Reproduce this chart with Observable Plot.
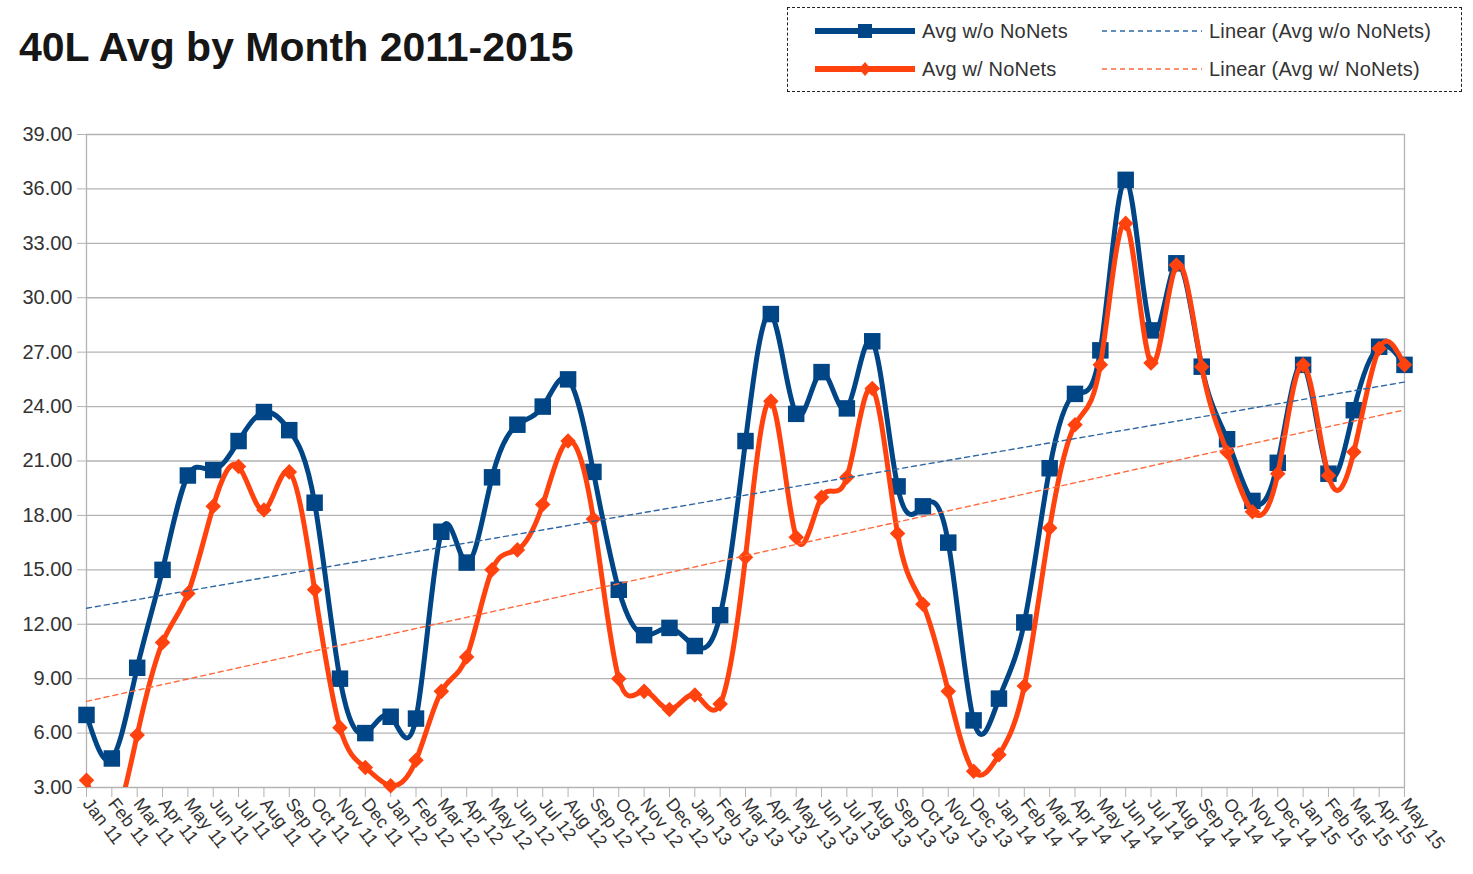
<!DOCTYPE html>
<html><head><meta charset="utf-8">
<script src="https://cdn.jsdelivr.net/npm/d3@7"></script>
<script src="https://cdn.jsdelivr.net/npm/@observablehq/plot@0.6"></script>
<style>
body{margin:0;background:#fff;font-family:"Liberation Sans",Arial,sans-serif;}
#wrap{position:relative;width:1473px;height:874px;overflow:hidden;}
#title{position:absolute;left:19px;top:27px;font-size:41px;font-weight:bold;color:#161616;white-space:nowrap;line-height:1;}
#legend{position:absolute;left:787px;top:7px;width:675px;height:85px;border:1.5px dashed #222;box-sizing:border-box;}
.li{position:absolute;display:flex;align-items:center;font-size:20px;letter-spacing:0.2px;color:#333;white-space:nowrap;}
.li svg{margin-right:6px;}
#chart{position:absolute;left:0;top:0;}
</style></head>
<body><div id="wrap"><div id="chart"></div><div id="title">40L Avg by Month 2011-2015</div><div id="legend"></div></div>
<script>
const months = ["Jan 11","Feb 11","Mar 11","Apr 11","May 11","Jun 11","Jul 11","Aug 11","Sep 11","Oct 11","Nov 11","Dec 11",
"Jan 12","Feb 12","Mar 12","Apr 12","May 12","Jun 12","Jul 12","Aug 12","Sep 12","Oct 12","Nov 12","Dec 12",
"Jan 13","Feb 13","Mar 13","Apr 13","May 13","Jun 13","Jul 13","Aug 13","Sep 13","Oct 13","Nov 13","Dec 13",
"Jan 14","Feb 14","Mar 14","Apr 14","May 14","Jun 14","Jul 14","Aug 14","Sep 14","Oct 14","Nov 14","Dec 14",
"Jan 15","Feb 15","Mar 15","Apr 15","May 15"];
const avgWithout = [7.0,4.6,9.6,15.0,20.2,20.5,22.1,23.7,22.7,18.7,9.0,6.0,
6.9,6.8,17.1,15.4,20.1,23.0,24.0,25.5,20.4,13.9,11.4,11.8,
10.8,12.5,22.1,29.1,23.6,25.9,23.9,27.6,19.6,18.5,16.5,6.7,
7.9,12.1,20.6,24.7,27.1,36.5,28.2,31.9,26.2,22.2,18.8,20.9,
26.3,20.3,23.8,27.3,26.3];
const avgWith = [3.4,1.0,5.9,11.0,13.7,18.5,20.7,18.3,20.4,13.9,6.3,4.1,
3.1,4.5,8.3,10.2,15.0,16.1,18.6,22.1,17.8,9.0,8.3,7.3,
8.1,7.6,15.7,24.3,16.8,19.0,20.1,25.0,17.0,13.1,8.3,3.9,
4.8,8.6,17.3,23.0,26.3,34.1,26.4,31.8,26.2,21.5,18.2,20.3,
26.3,20.2,21.5,27.2,26.3];
const yTicks = [3,6,9,12,15,18,21,24,27,30,33,36,39];
const seriesNames = ["Avg w/o NoNets","Avg w/ NoNets"];
const trendNames = ["Linear (Avg w/o NoNets)","Linear (Avg w/ NoNets)"];
const colors = ["#004586","#ff420e"];
const trendColors = ["#2f67a3","#ff6a3d"];

const data = months.map((m,i)=>({i, month:m, without:avgWithout[i], with:avgWith[i]}));
const last = months.length-1;
const yMin = yTicks[0];

const chart = Plot.plot({
  width:1473, height:874, marginLeft:86, marginRight:69, marginTop:134, marginBottom:87,
  x:{domain:[0,last]},
  y:{domain:[yTicks[0], yTicks[yTicks.length-1]]},
  style:{fontFamily:"Liberation Sans, Arial, sans-serif", background:"transparent", color:"#333", overflow:"visible"},
  marks:[
    Plot.gridY(yTicks,{stroke:"#b3b3b3", strokeOpacity:1, strokeWidth:1.3}),
    Plot.ruleX([0,last],{stroke:"#b3b3b3", strokeWidth:1.3}),
    Plot.axisY({ticks:yTicks, tickFormat:d=>d.toFixed(2), tickSize:9, tickPadding:5, stroke:"#b3b3b3", strokeOpacity:1, fill:"#333", fontSize:20, label:null}),
    Plot.axisX({ticks:d3.range(months.length), tickFormat:i=>months[i], tickRotate:52, tickSize:10, tickPadding:3, stroke:"#b3b3b3", strokeOpacity:1, fill:"#333", fontSize:18, label:null}),
    Plot.line(data,{x:"i", y:"without", curve:"natural", stroke:colors[0], strokeWidth:5, clip:true}),
    Plot.dot(data.filter(d=>d.without>=yMin),{x:"i", y:"without", symbol:"square", r:9.3, fill:colors[0], stroke:"none"}),
    Plot.line(data,{x:"i", y:"with", curve:"natural", stroke:colors[1], strokeWidth:5, clip:true}),
    Plot.dot(data.filter(d=>d.with>=yMin),{x:"i", y:"with", symbol:"diamond2", r:7, fill:colors[1], stroke:"none"}),
    Plot.linearRegressionY(data,{x:"i", y:"without", stroke:trendColors[0], strokeWidth:1.4, strokeDasharray:"5,4", ci:0}),
    Plot.linearRegressionY(data,{x:"i", y:"with", stroke:trendColors[1], strokeWidth:1.4, strokeDasharray:"5,4", ci:0})
  ]
});
document.getElementById("chart").appendChild(chart);

// legend
const lg = document.getElementById("legend");
const rows = [23, 61];
seriesNames.forEach((name,k)=>{
  const d = document.createElement("div");
  d.className="li"; d.style.left="26px"; d.style.top=(rows[k]-12)+"px";
  const marker = k===0
    ? `<rect x="44" y="-7" width="14" height="14" fill="${colors[0]}"/>`
    : `<path d="M51,-7 L57,0 L51,7 L45,0Z" fill="${colors[1]}"/>`;
  d.innerHTML = `<svg width="102" height="24" viewBox="0 -12 102 24"><line x1="1" x2="101" y1="0" y2="0" stroke="${colors[k]}" stroke-width="6"/>${marker}</svg><span>${name}</span>`;
  lg.appendChild(d);
  const t = document.createElement("div");
  t.className="li"; t.style.left="313px"; t.style.top=(rows[k]-12)+"px";
  t.innerHTML = `<svg width="102" height="24" viewBox="0 -12 102 24"><line x1="1" x2="101" y1="0" y2="0" stroke="${trendColors[k]}" stroke-width="1.4" stroke-dasharray="5,4"/></svg><span>${trendNames[k]}</span>`;
  lg.appendChild(t);
});
</script></body></html>
